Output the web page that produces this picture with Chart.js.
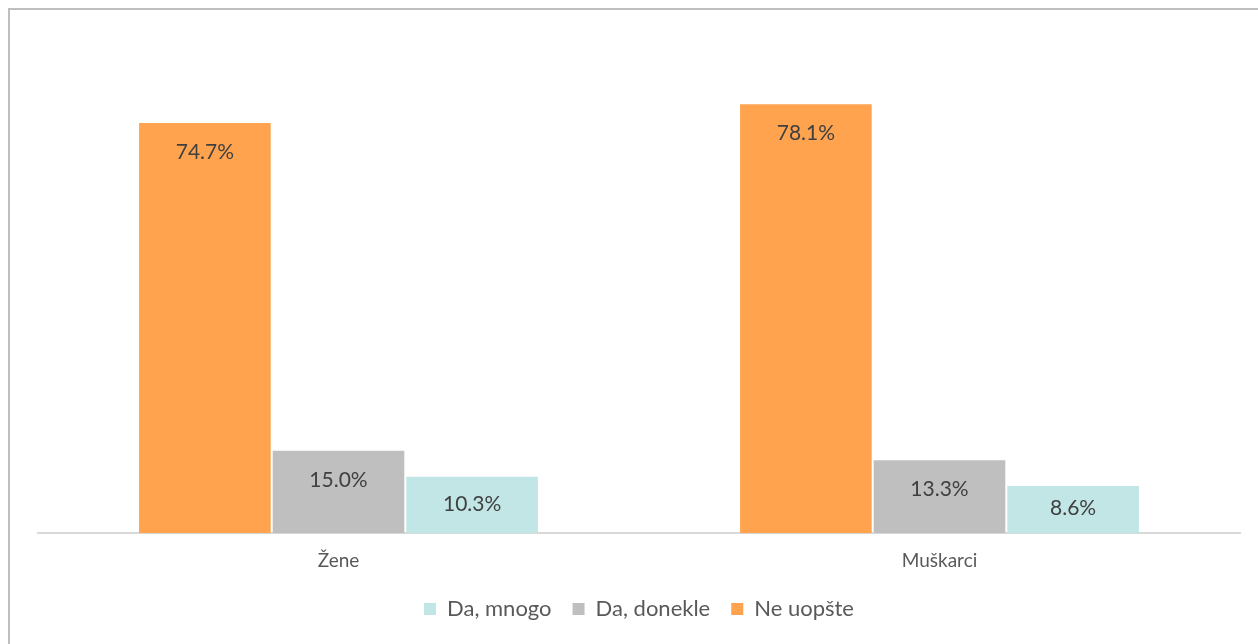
<!DOCTYPE html>
<html>
<head>
<meta charset="utf-8">
<script src="https://cdn.jsdelivr.net/npm/chart.js@4"></script>
<style>
  html, body { margin: 0; padding: 0; background: #fff; overflow: hidden; }
  .frame { position: absolute; left: 8px; top: 8px; width: 1300px; height: 700px; border: 2px solid #bfbfbf; box-sizing: border-box; }
  .wrap { position: absolute; left: 0; top: 0; width: 1258px; height: 644px; }
</style>
</head>
<body>
<div class="frame"></div>
<div class="wrap"><canvas id="chart"></canvas></div>
<script>
// Survey answers by gender (percent)
const groups = ['Žene', 'Muškarci'];
const neUopste = [74.7, 78.1];
const daDonekle = [15.0, 13.3];
const daMnogo = [10.3, 8.6];
const seriesLabels = ['Ne uopšte', 'Da, donekle', 'Da, mnogo'];
const seriesColors = ['#FFA34F', '#BFBFBF', '#C2E6E6'];

const fontFamily = 'Lato, "Open Sans", sans-serif';

// Writes each value inside its bar, near the top edge (centred on short bars)
const barValues = {
  id: 'barValues',
  afterDatasetsDraw(chart) {
    const ctx = chart.ctx;
    ctx.save();
    ctx.font = '21px ' + fontFamily;
    ctx.fillStyle = '#404040';
    ctx.textAlign = 'center';
    ctx.textBaseline = 'middle';
    chart.data.datasets.forEach((ds, i) => {
      chart.getDatasetMeta(i).data.forEach((bar, j) => {
        const y = Math.min(bar.y + 29, (bar.y + bar.base) / 2 - 1);
        ctx.fillText(ds.data[j].toFixed(1) + '%', bar.x, y);
      });
    });
    ctx.restore();
  }
};

new Chart(document.getElementById('chart'), {
  type: 'bar',
  data: {
    labels: groups,
    datasets: [
      { label: seriesLabels[0], data: neUopste, backgroundColor: seriesColors[0] },
      { label: seriesLabels[1], data: daDonekle, backgroundColor: seriesColors[1] },
      { label: seriesLabels[2], data: daMnogo, backgroundColor: seriesColors[2] }
    ]
  },
  options: {
    responsive: true,
    maintainAspectRatio: false,
    animation: false,
    layout: { padding: { left: 38, right: 18, top: 39, bottom: 14 } },
    datasets: {
      bar: { categoryPercentage: 0.667, barPercentage: 0.985, borderWidth: 0 }
    },
    scales: {
      x: {
        grid: { display: false },
        border: { color: '#D9D9D9', width: 2 },
        ticks: { color: '#595959', font: { family: fontFamily, size: 19 }, padding: 8 },
        afterFit(scale) { scale.height -= 3; }
      },
      y: { display: false, min: 0, max: 90 }
    },
    plugins: {
      legend: {
        position: 'bottom',
        reverse: true,
        labels: {
          color: '#595959',
          font: { family: fontFamily, size: 22 },
          boxWidth: 12,
          boxHeight: 12,
          padding: 21
        }
      },
      tooltip: { enabled: false }
    }
  },
  plugins: [barValues]
});
</script>
</body>
</html>
